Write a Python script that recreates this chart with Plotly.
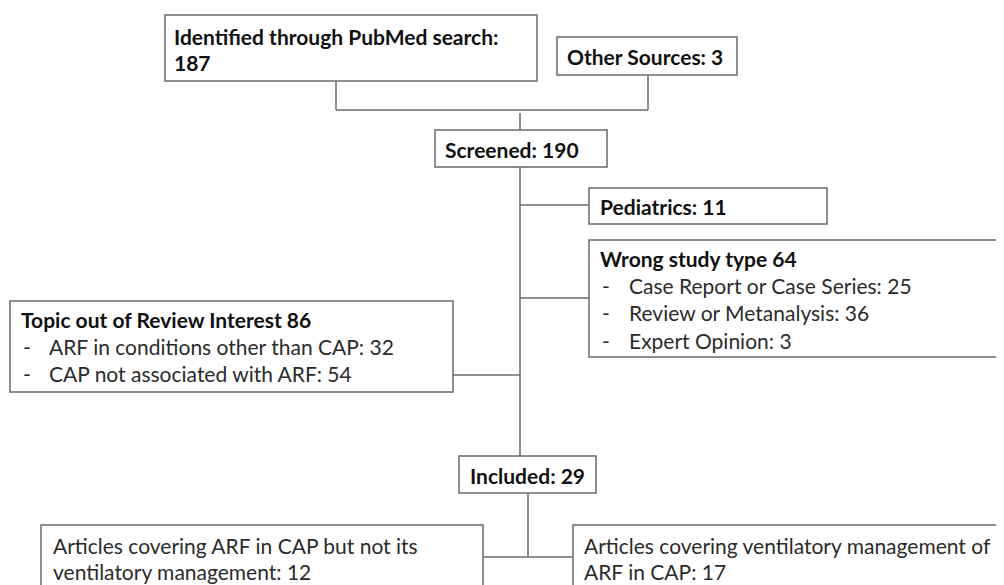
import plotly.graph_objects as go

# ---- data ----
source_labels = ["Identified through PubMed search:", "Other Sources:"]
source_counts = [187, 3]
screened_label = "Screened:"
screened_count = 190
exclusion_labels = ["Pediatrics:", "Wrong study type", "Topic out of Review Interest"]
exclusion_counts = [11, 64, 86]
wrong_type_labels = ["Case Report or Case Series", "Review or Metanalysis", "Expert Opinion"]
wrong_type_counts = [25, 36, 3]
topic_labels = ["ARF in conditions other than CAP", "CAP not associated with ARF"]
topic_counts = [32, 54]
included_label = "Included:"
included_count = 29
included_split_labels = ["Articles covering ARF in CAP but not its<br>ventilatory management",
                         "Articles covering ventilatory management of<br>ARF in CAP"]
included_split_counts = [12, 17]

# ---- style ----
W, H = 1004, 585
OFF = 8  # page body margin of the html page
LINE = dict(color="#6a6a6a", width=1.5)
FONT = "Lato"
FS = 21
BOLD_COLOR = "#111111"
TEXT_COLOR = "#2b2b2b"

fig = go.Figure()
shapes = []
annots = []


def box(x0, y0, x1, y1):
    shapes.append(dict(type="rect", xref="x", yref="y", x0=x0, y0=y0, x1=x1, y1=y1,
                       line=LINE, fillcolor="white", layer="above"))


def seg(pts):
    for (xa, ya), (xb, yb) in zip(pts[:-1], pts[1:]):
        shapes.append(dict(type="line", xref="x", yref="y", x0=xa, y0=ya, x1=xb, y1=yb,
                           line=LINE, layer="below"))


def text(x, y, s, bold=False, anchor="left"):
    annots.append(dict(xref="x", yref="y", x=x, y=y, text=(f"<b>{s}</b>" if bold else s),
                       showarrow=False, xanchor=anchor, yanchor="middle", align="left",
                       font=dict(family=FONT, size=FS,
                                 color=BOLD_COLOR if bold else TEXT_COLOR)))


# connectors
seg([(336, 81), (336, 110), (648, 110), (648, 75)])
seg([(520, 113), (520, 130)])
seg([(520, 167), (520, 456)])
seg([(520, 205), (589, 205)])
seg([(520, 298), (589, 298)])
seg([(453, 375), (520, 375)])
seg([(528, 493), (528, 557)])
seg([(483, 557), (573, 557)])

# boxes
box(165, 15, 537, 81)
box(557, 37, 737, 75)
box(435, 130, 607, 167)
box(589, 188, 827, 224)
box(589, 240, 1015, 357)
box(10, 301, 453, 392)
box(459, 456, 596, 493)
box(41, 525, 483, 600)
box(573, 525, 1015, 600)

# texts
text(172, 36, source_labels[0], bold=True)
text(172, 62, f"{source_counts[0]}", bold=True)
text(565, 56, f"{source_labels[1]} {source_counts[1]}", bold=True)
text(443, 149, f"{screened_label} {screened_count}", bold=True)
text(598, 206, f"{exclusion_labels[0]} {exclusion_counts[0]}", bold=True)

text(598, 258, f"{exclusion_labels[1]} {exclusion_counts[1]}", bold=True)
for i, (lab, c) in enumerate(zip(wrong_type_labels, wrong_type_counts)):
    yy = 285 + 27.5 * i
    text(600, yy, "-")
    text(627, yy, f"{lab}: {c}")

text(19, 319, f"{exclusion_labels[2]} {exclusion_counts[2]}", bold=True)
for i, (lab, c) in enumerate(zip(topic_labels, topic_counts)):
    yy = 346 + 27.5 * i
    text(21, yy, "-")
    text(47, yy, f"{lab}: {c}")

text(527.5, 475, f"{included_label} {included_count}", bold=True, anchor="center")

for x, lab, c in zip([51, 582], included_split_labels, included_split_counts):
    a, b = lab.split("<br>")
    text(x, 545, a)
    text(x, 571, f"{b}: {c}")

fig.update_layout(
    width=W - OFF, height=H - OFF, margin=dict(l=0, r=0, t=0, b=0, pad=0),
    paper_bgcolor="white", plot_bgcolor="white",
    xaxis=dict(range=[OFF, W], visible=False, fixedrange=True),
    yaxis=dict(range=[H, OFF], visible=False, fixedrange=True),
    shapes=shapes, annotations=annots, showlegend=False,
)
fig.write_html("out.html")
